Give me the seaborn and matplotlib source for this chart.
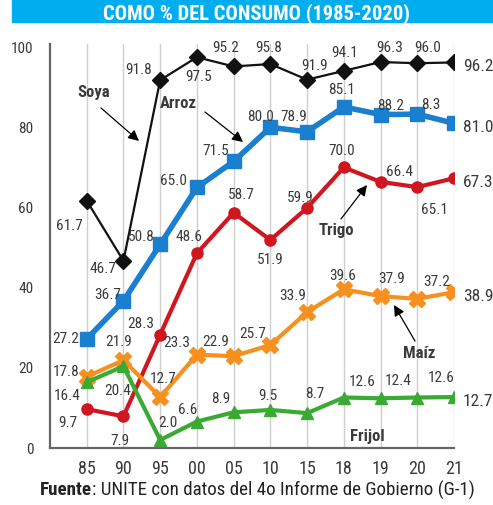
import matplotlib
matplotlib.use("Agg")
import matplotlib.pyplot as plt
from matplotlib.patches import Rectangle
from matplotlib import font_manager as fm
import seaborn as sns
import pandas as pd

# ---------------- data ----------------
years = ["85", "90", "95", "00", "05", "10", "15", "18", "19", "20", "21"]
soya = [61.7, 46.7, 91.8, 97.5, 95.2, 95.8, 91.9, 94.1, 96.3, 96.0, 96.2]
arroz = [27.2, 36.7, 50.8, 65.0, 71.5, 80.0, 78.9, 85.1, 83.2, 83.3, 81.0]
arroz_labels = ["27.2", "36.7", "50.8", "65.0", "71.5", "80.0", "78.9", "85.1", "88.2", "8.3", "81.0"]
trigo = [9.7, 7.9, 28.3, 48.6, 58.7, 51.9, 59.9, 70.0, 66.4, 65.1, 67.3]
maiz = [17.8, 21.9, 12.7, 23.3, 22.9, 25.7, 33.9, 39.6, 37.9, 37.2, 38.9]
frijol = [16.4, 20.4, 2.0, 6.6, 8.9, 9.5, 8.7, 12.6, 12.4, 12.6, 12.7]
yticks = [0, 20, 40, 60, 80, 100]
title = "COMO % DEL CONSUMO (1985-2020)"
source_bold = "Fuente"
source_rest = ": UNITE con datos del 4o Informe de Gobierno (G-1)"

# ---------------- style ----------------
sns.set_style("white")
avail = {f.name for f in fm.fontManager.ttflist}
FONT = "DejaVu Sans"
for cand in ["Liberation Sans Narrow", "Roboto Condensed", "Roboto", "Liberation Sans"]:
    if cand in avail:
        FONT = cand
        break
plt.rcParams["font.family"] = [FONT, "DejaVu Sans"]
TXT = "#3a3a3a"
LBL = 11

series = [
    # name, values, labels, color, marker, markersize, lw, label offsets (px, screen coords)
    ("Soya", soya, None, "#111111", "D", 8, 1.6,
     [(-17, 25), (-21, 8), (-22, -10), (2, 20), (-8, -18), (-2, -16), (7, -14), (1, -18), (9, -14), (10, -15), None]),
    ("Arroz", arroz, arroz_labels, "#1a7fcf", "s", 10, 4.0,
     [(-21, 0), (-16, -6), (-19, -7), (-23, -6), (-18, -10), (-10, -10), (-13, -15), (-2, -17), (10, -9), (14, -9), None]),
    ("Trigo", trigo, None, "#d0161e", "o", 8, 3.0,
     [(-19, 14), (-4, 25), (-19, -11), (-8, -16), (8, -18), (0, 20), (-7, -10), (-2, -16), (19, -10), (17, 23), None]),
    ("Maíz", maiz, None, "#f7901e", "X", 12, 3.0,
     [(-21, -5), (-5, -18), (3, -18), (-20, -12), (-18, -14), (-18, -11), (-14, -16), (-1, -13), (11, -17), (19, -17), None]),
    ("Frijol", frijol, None, "#3aaa35", "^", 8, 3.0,
     [(-20, 14), (-6, 25), (8, -17), (-9, -12), (-13, -13), (-2, -14), (8, -19), (18, -16), (18, -17), (24, -19), None]),
]

W, H = 493, 505
fig = plt.figure(figsize=(W / 100, H / 100), dpi=100)
ax = fig.add_axes([50 / W, (H - 448) / H, (454 - 50) / W, (448 - 44) / H])

# title banner
fig.patches.append(Rectangle((12 / W, (H - 22) / H), 1 - 12 / W, 22 / H,
                             transform=fig.transFigure, color="#00aeef", zorder=0))
ttl = fig.text(256 / W, (H - 19) / H, title, color="white", fontsize=16, fontweight="bold",
               ha="center", va="baseline")

# vertical grid
for i in range(len(years)):
    ax.axvline(i, color="#cfcfcf", lw=1.0, zorder=0)

x_idx = list(range(len(years)))
for name, vals, labels, color, marker, ms, lw, offs in series:
    df = pd.DataFrame({"x": x_idx, "y": vals})
    sns.lineplot(data=df, x="x", y="y", ax=ax, color=color, lw=lw, marker=marker,
                 markersize=ms, markeredgecolor=color, markeredgewidth=1.0, zorder=3)
    labs = labels if labels is not None else [f"{v:.1f}" for v in vals]
    for i, (v, t) in enumerate(zip(vals, labs)):
        off = offs[i]
        if off is None:
            ax.annotate(t, (i, v), xytext=(9, -4), textcoords="offset pixels",
                        ha="left", va="center", fontsize=LBL + 1.5, color=TXT, annotation_clip=False)
        else:
            ax.annotate(t, (i, v), xytext=(off[0], -off[1]), textcoords="offset pixels",
                        ha="center", va="center", fontsize=LBL, color=TXT, annotation_clip=False)

ax.set_xlim(-1, len(years) - 1)
ax.set_ylim(0, 100.8)
ax.set_xticks(x_idx)
ax.set_xticklabels(years)
ax.set_yticks(yticks)
ax.set_xlabel("")
ax.set_ylabel("")
ax.tick_params(axis="x", labelsize=13, colors="#777777", labelcolor=TXT, length=4, width=1.2, pad=5)
ax.tick_params(axis="y", labelsize=11, colors="#777777", labelcolor=TXT, length=5, width=1.2, pad=7)
for s in ["top", "right"]:
    ax.spines[s].set_visible(False)
for s in ["left", "bottom"]:
    ax.spines[s].set_color("#666666")
    ax.spines[s].set_linewidth(1.6)


def px(x, y):
    return (x / W, (H - y) / H)


def name_label(text, tx, ty, head=None, tail=None):
    fig.text(*px(tx, ty), text, ha="center", va="center", fontsize=12,
             fontweight="bold", color=TXT)
    if head is not None:
        ax.annotate("", xy=px(*head), xycoords="figure fraction",
                    xytext=px(*tail), textcoords="figure fraction",
                    arrowprops=dict(arrowstyle="-|>", color="black", lw=0.9,
                                    mutation_scale=16, shrinkA=0, shrinkB=0))


name_label("Soya", 94, 92, head=(139, 141), tail=(101, 108))
name_label("Arroz", 178, 104, head=(243, 142), tail=(205, 112))
name_label("Trigo", 336, 231, head=(367, 185), tail=(341, 219))
name_label("Maíz", 419, 353, head=(394, 305), tail=(415, 341))
name_label("Frijol", 367, 437)

# source line
t1 = fig.text(40 / W, (H - 490) / H, source_bold, fontsize=11, fontweight="bold",
              color="#222222", ha="left", va="center")
t2 = ax.annotate(source_rest, xy=(1, 0.5), xycoords=t1, ha="left", va="center",
                 fontsize=11, color="#222222")

# fit widths of title and source line to the reference
fig.canvas.draw()
r = fig.canvas.get_renderer()
w_t = ttl.get_window_extent(r).width
ttl.set_fontsize(ttl.get_fontsize() * 307 / w_t)
w_s = t1.get_window_extent(r).width + t2.get_window_extent(r).width
k = 435 / w_s
t1.set_fontsize(t1.get_fontsize() * k)
t2.set_fontsize(t2.get_fontsize() * k)

fig.savefig("out.png", dpi=100)
